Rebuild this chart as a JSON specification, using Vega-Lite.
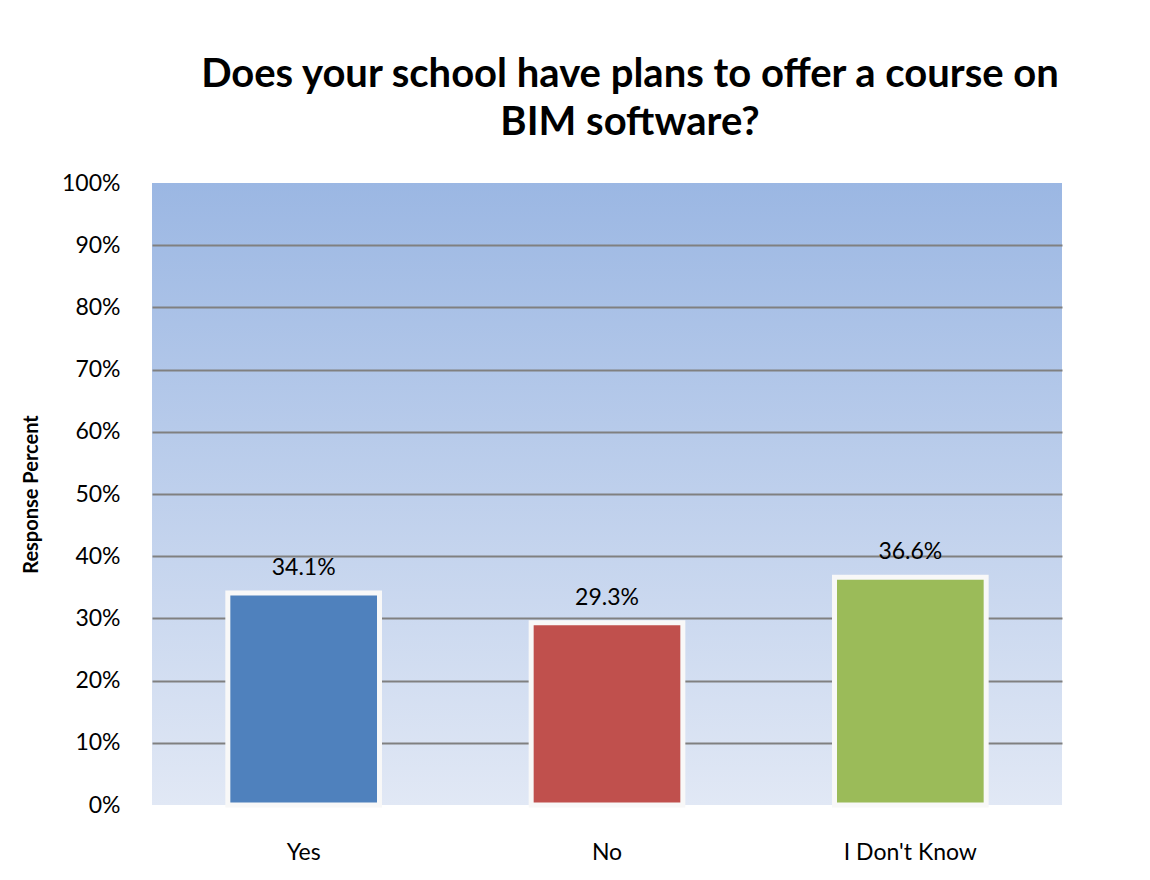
{
  "$schema": "https://vega.github.io/schema/vega-lite/v6.json",
  "width": 910,
  "height": 622,
  "autosize": {"type": "none"},
  "padding": {"left": 152, "top": 183, "right": 88, "bottom": 75},
  "background": "white",
  "title": {
    "text": ["Does your school have plans to offer a course on", "BIM software?"],
    "font": "Lato",
    "fontSize": 40,
    "fontWeight": "bold",
    "color": "#000000",
    "anchor": "middle",
    "frame": "group",
    "dx": 23,
    "offset": 29,
    "lineHeight": 48
  },
  "config": {
    "view": {
      "stroke": null,
      "fill": {"gradient": "linear", "x1": 0, "y1": 0, "x2": 0, "y2": 1,
        "stops": [{"offset": 0, "color": "#9bb7e3"}, {"offset": 1, "color": "#e1e8f5"}]}
    },
    "font": "Lato"
  },
  "data": {
    "values": [
      {"answer": "Yes", "pct": 0.341, "label": "34.1%"},
      {"answer": "No", "pct": 0.293, "label": "29.3%"},
      {"answer": "I Don't Know", "pct": 0.366, "label": "36.6%"}
    ]
  },
  "encoding": {
    "x": {
      "field": "answer", "type": "nominal", "sort": null,
      "scale": {"paddingInner": 0.5, "paddingOuter": 0.25},
      "axis": {"title": null, "labelAngle": 0, "labelFont": "Lato", "labelFontSize": 23, "labelColor": "#000000",
        "labelPadding": 36, "ticks": false, "domain": false}
    },
    "y": {
      "field": "pct", "type": "quantitative",
      "scale": {"domain": [0, 1], "nice": false},
      "axis": {"title": "Response Percent", "titleFont": "Lato", "titleFontSize": 20, "titleFontWeight": "bold",
        "titleColor": "#000000", "titlePadding": 20, "format": ".0%", "values": [0, 0.1, 0.2, 0.3, 0.4, 0.5, 0.6, 0.7, 0.8, 0.9, 1],
        "labelFont": "Lato", "labelFontSize": 23, "labelColor": "#000000", "labelPadding": 32, "ticks": false, "domain": false,
        "grid": true, "gridColor": "#808080", "gridWidth": 1.8,
        "gridOpacity": {"condition": {"test": "datum.value == 0 || datum.value == 1", "value": 0}, "value": 1}}
    }
  },
  "layer": [
    {
      "mark": {"type": "bar", "stroke": "#f8f8f8", "strokeWidth": 5},
      "encoding": {
        "color": {"field": "answer", "type": "nominal", "sort": null,
          "scale": {"domain": ["Yes", "No", "I Don't Know"], "range": ["#4f81bd", "#c0504d", "#9bbb59"]},
          "legend": null}
      }
    },
    {
      "mark": {"type": "text", "baseline": "bottom", "dy": -13, "fontSize": 23, "font": "Lato", "color": "#000000"},
      "encoding": {"text": {"field": "label"}}
    }
  ]
}
